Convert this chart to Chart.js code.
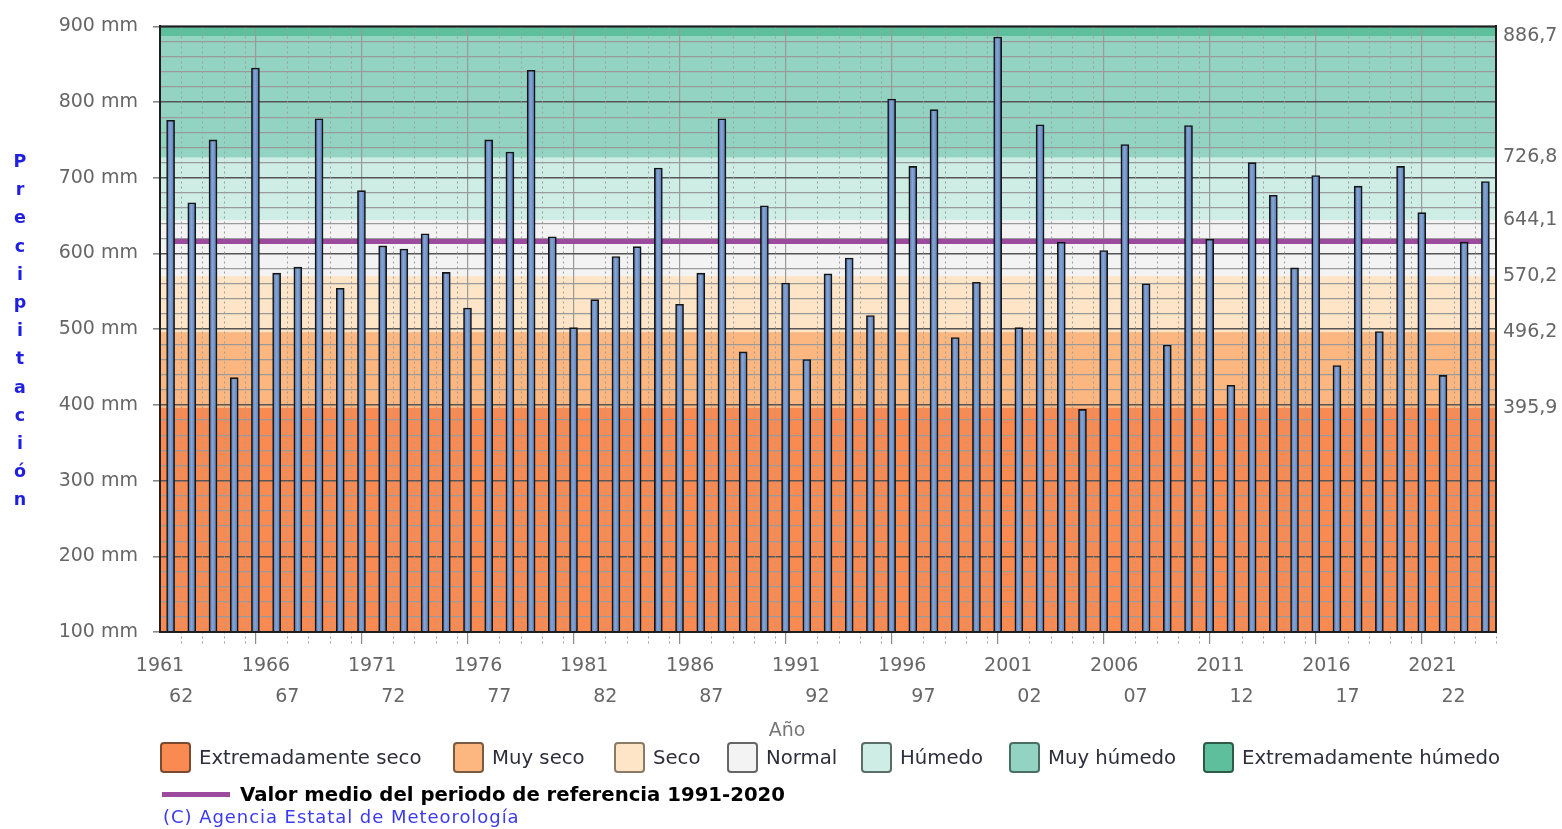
<!DOCTYPE html>
<html><head><meta charset="utf-8">
<script src="https://cdn.jsdelivr.net/npm/chart.js@4"></script>
<style>
html,body{margin:0;padding:0;background:#fff;}
#wrap{position:relative;width:1562px;height:829px;font-family:"DejaVu Sans",sans-serif;overflow:hidden;}
#c{position:absolute;left:0;top:0;}
#ytitle{position:absolute;left:8px;top:147px;width:24px;text-align:center;color:#1f1fe0;font-weight:bold;font-size:17.5px;line-height:28.2px;}
#xtitle{position:absolute;left:787px;top:718px;transform:translateX(-50%);color:#777;font-size:19px;}
.leg{position:absolute;top:742px;height:31px;display:flex;align-items:center;font-size:19.7px;color:#2e2e3c;white-space:nowrap;}
.box{width:31px;height:31px;border:2px solid #555;border-radius:4px;margin-right:8px;box-sizing:border-box;}
#meanleg{position:absolute;left:162px;top:781px;height:26px;display:flex;align-items:center;font-size:19.7px;font-weight:bold;color:#000;white-space:nowrap;}
#meanleg .ln{width:68px;height:5px;background:#9b4a9e;margin-right:10px;}
#copy{position:absolute;left:163px;top:806px;font-size:18px;letter-spacing:0.95px;color:#3a3af0;white-space:nowrap;}
</style>
</head><body>
<div id="wrap">
<canvas id="c" width="1562" height="829"></canvas>
<div id="ytitle"></div>
<div id="xtitle"></div>
<div id="legend"></div>
<div id="meanleg"><div class="ln"></div><span id="meanlabel"></span></div>
<div id="copy">(C) Agencia Estatal de Meteorología</div>
</div>
<script>
const years = [1961,1962,1963,1964,1965,1966,1967,1968,1969,1970,
  1971,1972,1973,1974,1975,1976,1977,1978,1979,1980,
  1981,1982,1983,1984,1985,1986,1987,1988,1989,1990,
  1991,1992,1993,1994,1995,1996,1997,1998,1999,2000,
  2001,2002,2003,2004,2005,2006,2007,2008,2009,2010,
  2011,2012,2013,2014,2015,2016,2017,2018,2019,2020,
  2021,2022,2023];
const precipitation = [776,667,750,436,845,574,582,778,554,683,
  610,606,626,575,528,750,734,842,622,502,
  539,596,609,713,533,574,778,470,663,561,
  460,573,594,518,804,715,790,489,562,886,
  502,770,615,394,604,744,560,479,769,619,
  426,720,677,581,703,452,689,497,715,654,
  439,615,695];
const referenceMean = 616;
const meanLabel = "Valor medio del periodo de referencia 1991-2020";
const bandEdges = [100, 395.9, 496.2, 570.2, 644.1, 726.8, 886.7, 900];
const bandNames = ["Extremadamente seco","Muy seco","Seco","Normal","Húmedo","Muy húmedo","Extremadamente húmedo"];
const bandColors = ["#f98a52","#fbb77f","#fee5c7","#f3f3f3","#ceede5","#92d4c1","#5dbf9b"];
const bandBorders = ["#7a4a30","#7a5a40","#8a7a66","#666666","#5a6e68","#4a6e62","#2e5a48"];
const rightTicks = [395.9, 496.2, 570.2, 644.1, 726.8, 886.7];
const yTitle = "Precipitación";
const axisTitle = "Año";

document.getElementById('ytitle').innerHTML = yTitle.split('').map(ch => '<div>' + ch + '</div>').join('');
document.getElementById('xtitle').textContent = axisTitle;
document.getElementById('meanlabel').textContent = meanLabel;
const legendX = [160, 453, 614, 727, 861, 1009, 1203];
document.getElementById('legend').innerHTML = bandNames.map((n, i) =>
  '<div class="leg" style="left:' + legendX[i] + 'px"><div class="box" style="background:' + bandColors[i] +
  ';border-color:' + bandBorders[i] + '"></div><span>' + n + '</span></div>').join('');

const fontFam = "'DejaVu Sans', sans-serif";

const bgPlugin = {
  id: 'bg',
  beforeDraw(chart) {
    const {ctx, chartArea: a, scales: {y}} = chart;
    ctx.save();
    for (let i = 0; i < bandColors.length; i++) {
      const top = y.getPixelForValue(bandEdges[i + 1]);
      const bot = y.getPixelForValue(bandEdges[i]);
      ctx.fillStyle = bandColors[i];
      ctx.fillRect(a.left, top, a.right - a.left, bot - top);
    }
    ctx.restore();
  },
  beforeDatasetsDraw(chart) {
    const {ctx, chartArea: a, scales: {x}} = chart;
    ctx.save();
    ctx.strokeStyle = '#a0a0a0';
    ctx.lineWidth = 1.1;
    ctx.setLineDash([2, 3]);
    for (let i = 0; i <= years.length; i++) {
      if (i % 5 === 0) continue;
      const px = Math.round(x.getPixelForValue(i)) + 0.5;
      ctx.beginPath(); ctx.moveTo(px, a.top); ctx.lineTo(px, a.bottom + 12); ctx.stroke();
    }
    ctx.restore();
  },
  afterDatasetsDraw(chart) {
    const {ctx, chartArea: a} = chart;
    ctx.save();
    ctx.strokeStyle = '#1e1e1e';
    ctx.lineWidth = 2;
    ctx.strokeRect(a.left, a.top, a.right - a.left, a.bottom - a.top);
    ctx.restore();
  }
};

function barFill(context) {
  const chart = context.chart;
  const xs = chart.scales && chart.scales.x;
  if (!xs || context.dataIndex === undefined || !isFinite(xs.left)) return '#6a8cc4';
  const cx = xs.getPixelForValue(context.dataIndex + 0.5);
  if (!isFinite(cx)) return '#6a8cc4';
  const g = chart.ctx.createLinearGradient(cx - 4, 0, cx + 4, 0);
  g.addColorStop(0, '#4f6fa3');
  g.addColorStop(0.45, '#86a6d8');
  g.addColorStop(1, '#5577ad');
  return g;
}

new Chart(document.getElementById('c'), {
  type: 'bar',
  data: {
    datasets: [
      {
        type: 'bar',
        label: 'Precipitación',
        data: years.map((yr, i) => ({x: i + 0.5, y: precipitation[i]})),
        backgroundColor: barFill,
        borderColor: '#151515',
        borderWidth: 1.6,
        barThickness: 8,
        base: 100,
        order: 0
      },
      {
        type: 'line',
        label: meanLabel,
        data: years.map((yr, i) => ({x: i + 0.5, y: referenceMean})),
        borderColor: '#9b4a9e',
        borderWidth: 5,
        pointRadius: 0,
        order: 1
      }
    ]
  },
  options: {
    responsive: false,
    animation: false,
    events: [],
    layout: {padding: {top: 24, bottom: 0, left: 0, right: 0}},
    plugins: {legend: {display: false}, tooltip: {enabled: false}},
    scales: {
      x: {
        type: 'linear',
        min: 0, max: years.length,
        offset: false,
        afterFit(s) { s.height = 197; },
        afterBuildTicks(s) { s.ticks = years.concat([years[years.length-1]+1]).map((yr, i) => ({value: i})); },
        grid: {
          color: c => (c.tick && c.tick.value % 5 === 0) ? '#9a9a9a' : 'rgba(0,0,0,0)',
          tickColor: c => (c.tick && c.tick.value % 5 === 0) ? '#8a8a8a' : 'rgba(0,0,0,0)',
          lineWidth: 1.2,
          tickLength: 12
        },
        border: {display: true, color: '#1e1e1e', width: 2},
        ticks: {
          autoSkip: false, maxRotation: 0, minRotation: 0,
          padding: 6,
          color: '#666',
          font: {family: fontFam, size: 19, lineHeight: 1.65},
          callback: (v) => {
            const i = Math.round(v);
            if (i >= years.length) return '';
            if (i % 5 === 0) return [String(years[i]), ''];
            if (i % 5 === 1) return ['', String(years[i]).slice(2)];
            return '';
          }
        }
      },
      y: {
        type: 'linear',
        position: 'left',
        min: 100, max: 900,
        afterFit(s) { s.width = 160; },
        ticks: {
          stepSize: 20,
          autoSkip: false,
          padding: 15,
          color: '#666',
          font: {family: fontFam, size: 19},
          callback: v => (v % 100 === 0) ? v + ' mm' : ''
        },
        grid: {
          color: c => (c.tick && c.tick.value % 100 === 0) ? '#555' : '#9a9a9a',
          lineWidth: c => (c.tick && c.tick.value % 100 === 0) ? 1.6 : 1.2,
          tickColor: c => (c.tick && c.tick.value % 100 === 0) ? '#888' : 'rgba(0,0,0,0)',
          tickLength: 7
        },
        border: {display: true, color: '#1e1e1e', width: 2}
      },
      y2: {
        type: 'linear',
        position: 'right',
        min: 100, max: 900,
        afterFit(s) { s.width = 66; },
        afterBuildTicks(s) { s.ticks = rightTicks.map(v => ({value: v})); },
        grid: {drawOnChartArea: false, drawTicks: false},
        border: {display: true, color: '#1e1e1e', width: 2},
        ticks: {
          autoSkip: false,
          padding: 7,
          color: '#666',
          font: {family: fontFam, size: 19},
          callback: v => v.toFixed(1).replace('.', ',')
        }
      }
    }
  },
  plugins: [bgPlugin]
});
</script>
</body></html>
